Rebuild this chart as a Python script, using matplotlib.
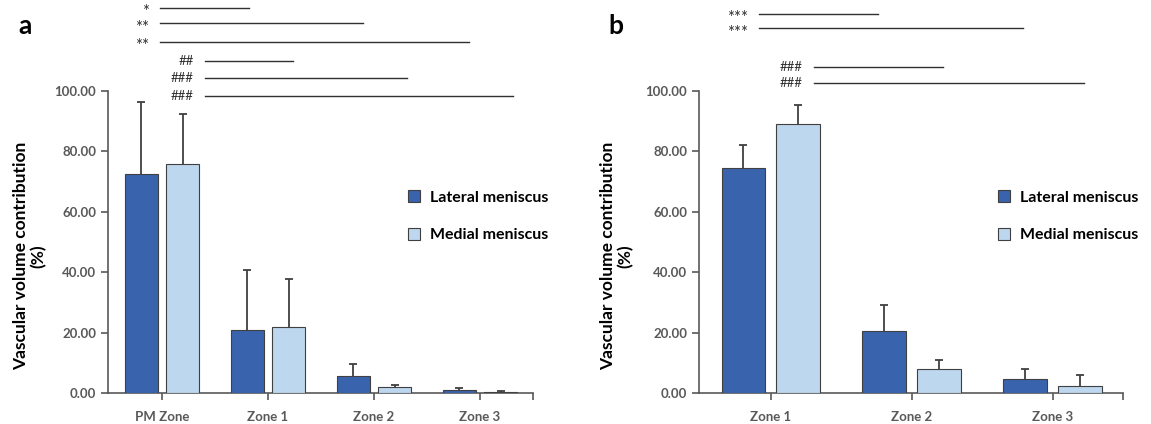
import matplotlib.pyplot as plt
import numpy as np

plt.rcParams['font.family'] = ['Lato', 'DejaVu Sans']

# panel a
zones_a = ['PM Zone', 'Zone 1', 'Zone 2', 'Zone 3']
lateral_a = [72.6, 20.9, 5.5, 0.9]
lateral_a_sd = [23.6, 19.8, 4.2, 0.6]
medial_a = [75.9, 22.0, 2.0, 0.3]
medial_a_sd = [16.4, 15.6, 0.8, 0.4]

# panel b
zones_b = ['Zone 1', 'Zone 2', 'Zone 3']
lateral_b = [74.5, 20.6, 4.6]
lateral_b_sd = [7.7, 8.4, 3.2]
medial_b = [89.2, 8.1, 2.4]
medial_b_sd = [6.1, 2.8, 3.4]

# significance marks: (label, line end in category units, height)
stars_a = [('*', 0.82, 127.6), ('**', 1.90, 122.4), ('**', 2.90, 116.2)]
hashes_a = [('##', 1.24, 109.8), ('###', 2.31, 104.3), ('###', 3.31, 98.4)]
stars_b = [('***', 0.76, 125.6), ('***', 1.79, 120.7)]
hashes_b = [('###', 1.22, 107.9), ('###', 2.22, 102.7)]

DARK = '#3A63AD'
LIGHT = '#BDD7EE'
GRAY = '#595959'
W = 0.31


def draw_panel(ax, zones, lat, lat_sd, med, med_sd):
    x = np.arange(len(zones))
    ax.bar(x - 0.195, lat, W, color=DARK, edgecolor='#404040', linewidth=0.8,
           label='Lateral meniscus', zorder=3)
    ax.bar(x + 0.195, med, W, color=LIGHT, edgecolor='#404040', linewidth=0.8,
           label='Medial meniscus', zorder=3)
    for off, vals, sd in [(-0.195, lat, lat_sd), (0.195, med, med_sd)]:
        top = np.array(vals) + np.array(sd)
        ax.vlines(x + off, vals, top, color='#404040', lw=1.3, zorder=2)
        ax.plot(x + off, top, ls='none', marker='_', ms=6, mew=1.3,
                color='#404040', zorder=2)
    ax.set_xlim(-0.51, len(zones) - 0.5)
    ax.set_ylim(0, 100)
    ax.set_xticks(x)
    ax.set_xticklabels(zones)
    ax.set_xticks([len(zones) - 0.5], minor=True)
    ax.set_yticks(np.arange(0, 101, 20))
    ax.set_yticklabels(['%.2f' % v for v in np.arange(0, 101, 20)])
    for s in ['top', 'right']:
        ax.spines[s].set_visible(False)
    for s in ['left', 'bottom']:
        ax.spines[s].set_color(GRAY)
        ax.spines[s].set_linewidth(1.2)
    ax.tick_params(axis='both', which='both', direction='out', length=5, width=1.2,
                   color=GRAY, labelcolor=GRAY, labelsize=9.5)
    ax.tick_params(axis='x', pad=8)
    for t in ax.get_xticklabels() + ax.get_yticklabels():
        t.set_fontweight('bold')
    leg = ax.legend(loc='upper left', frameon=False, handlelength=0.75, handleheight=0.75,
                    labelspacing=1.45, handletextpad=0.6, borderaxespad=0,
                    prop={'weight': 'bold', 'size': 11.5})
    return leg


def draw_sig(ax, marks, x0, fs=9.5, dy=0):
    for label, x1, y in marks:
        ax.plot([x0, x1], [y, y], color='#303030', lw=1.0, clip_on=False)
        ax.annotate(label, (x0, y), xytext=(-8, dy), textcoords='offset points',
                    ha='right', va='center', fontsize=fs, color='#303030',
                    annotation_clip=False)


fig = plt.figure(figsize=(11.51, 4.24), dpi=100)
ax_a = fig.add_axes([108 / 1151, 31 / 424, 425 / 1151, 302 / 424])
ax_b = fig.add_axes([699 / 1151, 31 / 424, 424 / 1151, 302 / 424])

leg_a = draw_panel(ax_a, zones_a, lateral_a, lateral_a_sd, medial_a, medial_a_sd)
leg_a.set_bbox_to_anchor((402 / 1151, 1 - 184 / 424), transform=fig.transFigure)
leg_b = draw_panel(ax_b, zones_b, lateral_b, lateral_b_sd, medial_b, medial_b_sd)
leg_b.set_bbox_to_anchor((992 / 1151, 1 - 184 / 424), transform=fig.transFigure)

draw_sig(ax_a, stars_a, -0.02, fs=12, dy=-3)
draw_sig(ax_a, hashes_a, 0.405)
draw_sig(ax_b, stars_b, -0.085, fs=12, dy=-3)
draw_sig(ax_b, hashes_b, 0.304)

for xc in [30, 617]:
    fig.text(xc / 1151, 1 - 256 / 424, 'Vascular volume contribution\n(%)',
             rotation=90, ha='center', va='center', fontsize=12.5,
             fontweight='bold', linespacing=1.1)

fig.text(18 / 1151, 1 - 26 / 424, 'a', fontsize=19, fontweight='bold', va='center')
fig.text(608 / 1151, 1 - 26 / 424, 'b', fontsize=19, fontweight='bold', va='center')

fig.savefig('out.png', dpi=100)
